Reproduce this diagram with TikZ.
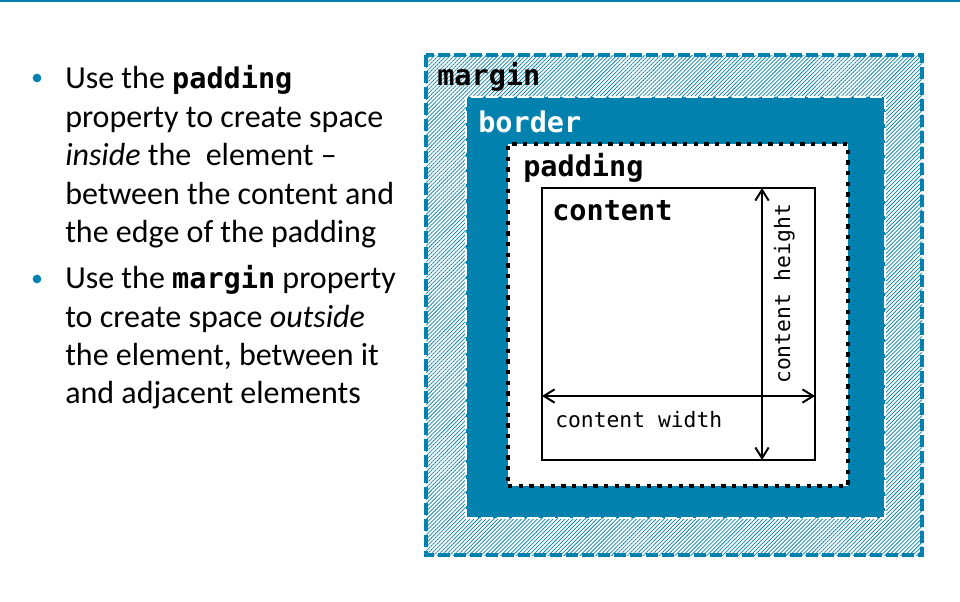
\documentclass[tikz,border=0pt]{standalone}
\usepackage{fontspec}
\setmainfont{Carlito}
\setmonofont{DejaVu Sans Mono}
\usetikzlibrary{patterns.meta,arrows.meta}
\definecolor{teal}{RGB}{0,129,174}
\tikzset{
  bodytext/.style={anchor=base west,inner sep=0pt,font=\fontsize{24pt}{28pt}\selectfont},
  boxlabel/.style={anchor=base west,inner sep=0pt,font=\fontsize{21.4pt}{25pt}\selectfont\ttfamily\bfseries},
  dimlabel/.style={anchor=base west,inner sep=0pt,font=\fontsize{16pt}{19pt}\selectfont\ttfamily},
  bulletdot/.style={circle,fill=teal,inner sep=0pt,minimum size=6.5pt},
  marginbox/.style={rectangle,inner sep=0pt,outer sep=0pt,minimum width=372pt,minimum height=375pt,
     pattern={Lines[angle=45,distance=2.1pt,line width=0.55pt]},pattern color=teal},
  marginedge/.style={draw=teal,line width=2.6pt,dash pattern=on 9pt off 3pt},
  borderbox/.style={rectangle,inner sep=0pt,outer sep=0pt,minimum width=314.25pt,minimum height=315.75pt,
     fill=teal,draw=white,line width=1.5pt,dash pattern=on 9pt off 2.5pt},
  paddingbox/.style={rectangle,inner sep=0pt,outer sep=0pt,minimum width=255pt,minimum height=256.5pt,
     fill=white,draw=black,line width=3.2pt,dash pattern=on 3.2pt off 4.8pt},
  contentbox/.style={rectangle,inner sep=0pt,outer sep=0pt,minimum width=204.75pt,minimum height=204pt,
     draw=black,line width=1.6pt},
  dimarrow/.style={line width=1.5pt,{Straight Barb[length=8pt,width=10pt]}-{Straight Barb[length=8pt,width=10pt]}}
}
\newcommand{\cw}[1]{{\fontsize{21.4pt}{25pt}\selectfont\ttfamily\bfseries #1}}
\begin{document}
\begin{tikzpicture}[x=0.75pt,y=-0.75pt]
\useasboundingbox (0,0) rectangle (960,601);
\fill[white] (0,0) rectangle (960,601);
\fill[teal] (0,0) rectangle (960,2);

% boxes
\node[marginbox] (margin) at (674,305) {};
\node[borderbox] (border) at (675.5,307.5) {};
\node[paddingbox] (padding) at (678,315) {};
\node[contentbox] (content) at (678.5,324) {};
\draw[marginedge] (margin.north west) rectangle (margin.south east);

% labels
\node[boxlabel] (lmargin) at (437,85) {margin};
\node[boxlabel,text=white] (lborder) at (478,132) {border};
\node[boxlabel] (lpadding) at (523,176) {padding};
\node[boxlabel] (lcontent) at (552,220) {content};

% dimension arrows
\coordinate (hy) at (0,396);
\coordinate (vx) at (762,0);
\draw[dimarrow] (content.west |- hy) -- (content.east |- hy);
\draw[dimarrow] (vx |- content.north) -- (vx |- content.south);
\node[dimlabel] (lwidth) at (555,427) {content width};
\node[dimlabel,rotate=90] (lheight) at (790,384) {content height};

% bullet text
\node[bulletdot] (b1) at (37,78) {};
\node[bodytext] (t1) at (65,88) {Use the \cw{padding}};
\node[bodytext] (t2) at (65,127) {property to create space};
\node[bodytext] (t3) at (65,165) {\textit{inside} the~ element –};
\node[bodytext] (t4) at (65,204) {between the content and};
\node[bodytext] (t5) at (65,242) {the edge of the padding};
\node[bulletdot] (b2) at (37,279) {};
\node[bodytext] (u1) at (65,288) {Use the \cw{margin} property};
\node[bodytext] (u2) at (65,327) {to create space \textit{outside}};
\node[bodytext] (u3) at (65,365) {the element, between it};
\node[bodytext] (u4) at (65,403) {and adjacent elements};
\end{tikzpicture}
\end{document}
